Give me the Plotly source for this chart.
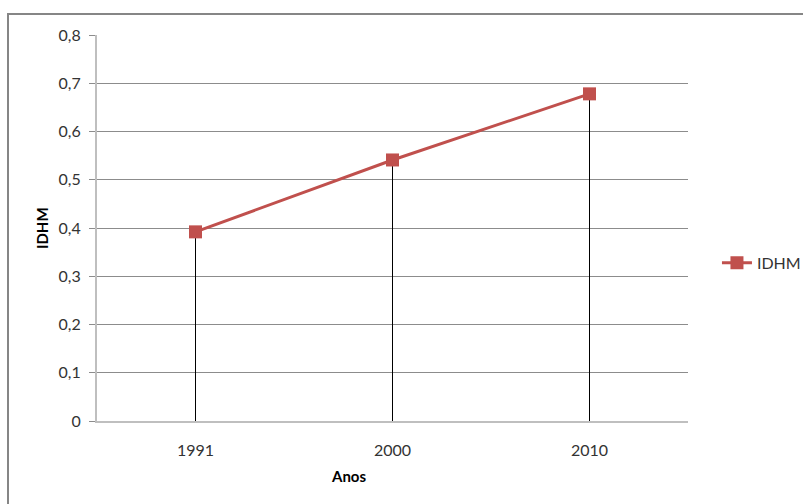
import plotly.graph_objects as go

# IDHM by census year
anos = ["1991", "2000", "2010"]
idhm = [0.392, 0.541, 0.678]
y_ticks = [0, 0.1, 0.2, 0.3, 0.4, 0.5, 0.6, 0.7, 0.8]
y_labels = ["0", "0,1", "0,2", "0,3", "0,4", "0,5", "0,6", "0,7", "0,8"]

RED = "#C0504D"
FONT = "Lato, Open Sans, sans-serif"

# vertical drop lines from each point down to the category axis
drop_x, drop_y = [], []
for a, v in zip(anos, idhm):
    drop_x += [a, a, None]
    drop_y += [v, 0, None]

fig = go.Figure()
fig.add_trace(go.Scatter(
    x=drop_x, y=drop_y, mode="lines",
    line=dict(color="#000000", width=1),
    showlegend=False, hoverinfo="skip",
))
fig.add_trace(go.Scatter(
    x=anos, y=idhm, name="IDHM", mode="lines+markers",
    line=dict(color=RED, width=3),
    marker=dict(symbol="square", size=13, color=RED),
))

fig.update_layout(
    width=803, height=504,
    margin=dict(l=97, r=115, t=35, b=83, autoexpand=False),
    paper_bgcolor="white", plot_bgcolor="white",
    font=dict(family=FONT, size=16, color="#333333"),
    showlegend=True,
    legend=dict(x=1.049, y=0.41, xanchor="left", yanchor="middle",
                font=dict(size=16, color="#333333"),
                itemwidth=30, bgcolor="rgba(0,0,0,0)"),
    xaxis=dict(
        type="category", range=[-0.5, 2.5],
        showgrid=False, showline=True, linecolor="#BFBFBF", linewidth=2,
        ticks="", ticklabelstandoff=14, zeroline=False,
        tickfont=dict(size=16),
    ),
    yaxis=dict(
        range=[0, 0.8], tickvals=y_ticks, ticktext=y_labels,
        showgrid=True, gridcolor="#8C8C8C", gridwidth=1,
        showline=True, linecolor="#BFBFBF", linewidth=2,
        ticks="outside", ticklen=6, tickcolor="#8C8C8C",
        ticklabelstandoff=5, zeroline=False,
        tickfont=dict(size=16),
    ),
    annotations=[
        dict(text="<b>IDHM</b>", textangle=-90, x=42, y=228,
             xref="paper", yref="paper", xanchor="center", yanchor="middle",
             showarrow=False, font=dict(size=15, color="#000000")),
        dict(text="<b>Anos</b>", x=348, y=476,
             xref="paper", yref="paper", xanchor="center", yanchor="middle",
             showarrow=False, font=dict(size=15, color="#000000")),
    ],
)

# convert pixel placements of the axis titles to paper coordinates
L, R, T, B = 97, 688, 35, 421
for ann in fig.layout.annotations:
    ann.x = (ann.x - L) / (R - L)
    ann.y = (B - ann.y) / (B - T)

# chart frame
fig.add_shape(type="rect", xref="paper", yref="paper",
              x0=(8 - L) / (R - L), x1=(812 - L) / (R - L),
              y0=(B - 515) / (B - T), y1=(B - 14) / (B - T),
              line=dict(color="#868686", width=2), layer="below")

fig.write_html("out.html")
